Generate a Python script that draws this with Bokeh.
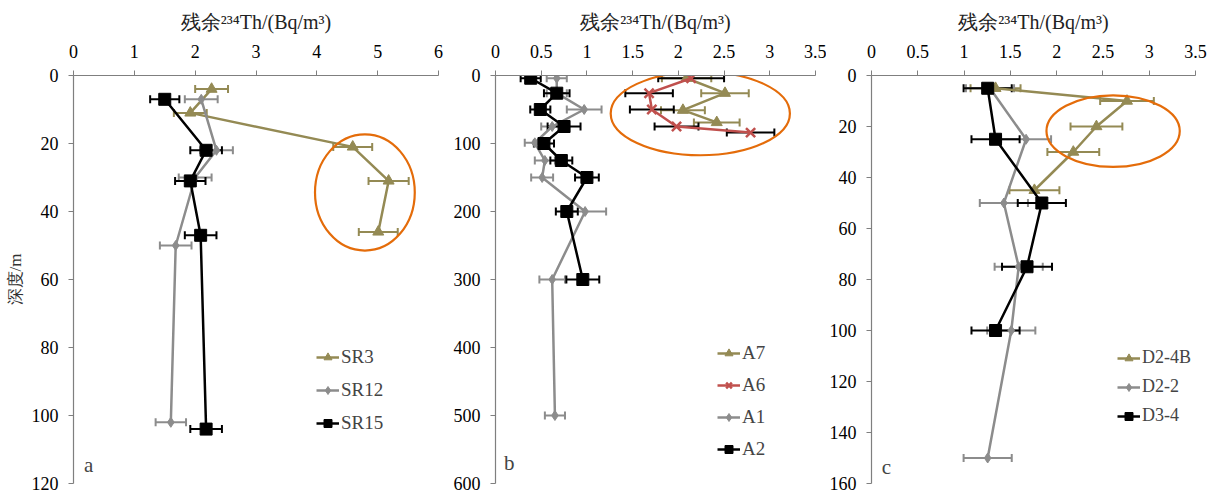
from bokeh.plotting import figure
from bokeh.layouts import row
from bokeh.models import (ColumnDataSource, Whisker, TeeHead, Legend, LegendItem,
                          Range1d, FixedTicker, Label)
from bokeh.embed import file_html
from bokeh.resources import INLINE

# ---------------- data ----------------
# panel a
SR3_x = [2.27, 1.92, 4.59, 5.18, 5.01]
SR3_d = [4, 11, 21, 31, 46]
SR3_e = [0.27, 0.27, 0.32, 0.33, 0.32]
SR12_x = [2.10, 2.35, 2.00, 1.68, 1.60]
SR12_d = [7, 22, 30, 50, 102]
SR12_e = [0.27, 0.27, 0.27, 0.26, 0.25]
SR15_x = [1.50, 2.18, 1.92, 2.09, 2.18]
SR15_d = [7, 22, 31, 47, 104]
SR15_e = [0.24, 0.26, 0.25, 0.26, 0.26]

# panel b
A7_x = [2.09, 2.51, 2.05, 2.42]
A7_d = [4, 26, 51, 69]
A7_e = [0.27, 0.26, 0.24, 0.25]
A6_x = [2.14, 1.68, 1.71, 1.98, 2.79]
A6_d = [4, 26, 50, 75, 84]
A6_e = [0.36, 0.26, 0.24, 0.24, 0.26]
A1_x = [0.67, 0.67, 0.97, 0.62, 0.43, 0.54, 0.51, 0.98, 0.62, 0.65]
A1_d = [4, 26, 50, 75, 99, 125, 150, 200, 300, 500]
A1_e = [0.11, 0.11, 0.19, 0.12, 0.11, 0.11, 0.12, 0.23, 0.14, 0.11]
A2_x = [0.385, 0.67, 0.49, 0.75, 0.53, 0.72, 1.00, 0.78, 0.955]
A2_d = [4, 26, 50, 75, 100, 125, 150, 200, 300]
A2_e = [0.11, 0.14, 0.11, 0.18, 0.11, 0.12, 0.13, 0.12, 0.18]

# panel c
D24B_x = [1.34, 2.76, 2.43, 2.18, 1.76]
D24B_d = [5, 10, 20, 30, 45]
D24B_e = [0.27, 0.29, 0.28, 0.28, 0.27]
D22_x = [1.28, 1.67, 1.43, 1.59, 1.51, 1.255]
D22_d = [5, 25, 50, 75, 100, 150]
D22_e = [0.26, 0.27, 0.26, 0.26, 0.26, 0.26]
D34_x = [1.255, 1.34, 1.84, 1.68, 1.34]
D34_d = [5, 25, 50, 75, 100]
D34_e = [0.26, 0.26, 0.26, 0.27, 0.26]

# highlighted regions (ellipses): center x, center depth, width, height
ELL_a = (4.79, 34.4, 1.64, 34.2)
ELL_b = (2.24, 55.8, 1.96, 123.0)
ELL_c = (2.61, 21.8, 1.44, 28.1)

X_TITLE = "残余²³⁴Th/(Bq/m³)"
Y_TITLE = "深度/m"

OLIVE = "#948A54"
RED = "#C0504D"
GRAY = "#8C8C8C"
BLACK = "#000000"
ORANGE = "#E46C0A"
AXIS = "#7F7F7F"
SERIF = "Liberation Serif"


def make_fig(width, left, right, top, bottom, xmax, ymax, xticks, yticks, ylabel=None):
    p = figure(width=width, height=497, x_range=Range1d(0, xmax), y_range=Range1d(ymax, 0),
               x_axis_location="above", output_backend="svg", toolbar_location=None,
               min_border_left=left, min_border_right=right, min_border_top=top,
               min_border_bottom=bottom)
    p.outline_line_color = None
    p.grid.visible = False
    p.background_fill_color = "white"
    p.border_fill_color = "white"
    p.xaxis.ticker = FixedTicker(ticks=xticks)
    p.yaxis.ticker = FixedTicker(ticks=yticks)
    for ax in (p.xaxis[0], p.yaxis[0]):
        ax.axis_line_color = AXIS
        ax.axis_line_width = 1.2
        ax.major_tick_line_color = AXIS
        ax.major_tick_in = 0
        ax.major_tick_out = 5
        ax.minor_tick_line_color = None
        ax.major_label_text_font = SERIF
        ax.major_label_text_font_size = "18px"
        ax.major_label_text_color = "#000000"
        ax.major_label_standoff = 10
    p.xaxis.major_label_standoff = 13
    p.xaxis.axis_label = X_TITLE
    p.xaxis.axis_label_text_font = SERIF
    p.xaxis.axis_label_text_font_style = "normal"
    p.xaxis.axis_label_text_font_size = "20px"
    p.xaxis.axis_label_text_color = "#222222"
    p.xaxis.axis_label_standoff = 9
    if ylabel:
        p.yaxis.axis_label = ylabel
        p.yaxis.axis_label_text_font = SERIF
        p.yaxis.axis_label_text_font_style = "normal"
        p.yaxis.axis_label_text_font_size = "17px"
        p.yaxis.axis_label_text_color = "#333333"
        p.yaxis.axis_label_standoff = 4
    return p


def add_series(p, xs, ds, es, color, marker, size, err_color):
    src = ColumnDataSource(dict(x=xs, d=ds, lo=[a - b for a, b in zip(xs, es)],
                                hi=[a + b for a, b in zip(xs, es)]))
    ln = p.line("x", "d", source=src, line_color=color, line_width=2.5)
    w = Whisker(source=src, base="d", lower="lo", upper="hi", dimension="width",
                line_color=err_color, line_width=2,
                lower_head=TeeHead(size=8, line_color=err_color, line_width=2),
                upper_head=TeeHead(size=8, line_color=err_color, line_width=2))
    p.add_layout(w)
    if marker == "x":
        sc = p.scatter("x", "d", source=src, marker="x", size=size, line_color=color,
                       line_width=2.5)
    else:
        sc = p.scatter("x", "d", source=src, marker=marker, size=size, fill_color=color,
                       line_color=color)
    return [ln, sc]


def add_legend(p, items, x, y, spacing, fsize="19px"):
    leg = Legend(items=[LegendItem(label=l, renderers=r) for l, r in items],
                 location=(x, y), orientation="vertical",
                 label_text_font=SERIF, label_text_font_size=fsize,
                 glyph_width=23, glyph_height=20, label_height=20, label_standoff=2,
                 spacing=spacing, padding=0, margin=0,
                 border_line_alpha=0, background_fill_alpha=0)
    p.add_layout(leg)


def add_ellipse(p, e):
    cx, cy, w, h = e
    p.ellipse(x=[cx], y=[cy], width=[w], height=[h], fill_color=None,
              line_color=ORANGE, line_width=2.2)


def add_tag(p, text, x, y):
    p.add_layout(Label(x=x, y=y, text=text, text_font=SERIF, text_font_size="21px",
                       text_align="center", text_baseline="middle"))


# ---------------- panel a ----------------
pa = make_fig(450, 73, 12, 75, 11, 6, 120, [0, 1, 2, 3, 4, 5, 6],
              [0, 20, 40, 60, 80, 100, 120], ylabel=Y_TITLE)
r1 = add_series(pa, SR3_x, SR3_d, SR3_e, OLIVE, "triangle", 11, OLIVE)
r2 = add_series(pa, SR12_x, SR12_d, SR12_e, GRAY, "diamond", 10, GRAY)
r3 = add_series(pa, SR15_x, SR15_d, SR15_e, BLACK, "square", 12, BLACK)
add_ellipse(pa, ELL_a)
add_legend(pa, [("SR3", r1), ("SR12", r2), ("SR15", r3)], 243, 49, 11)
add_tag(pa, "a", 0.25, 114.5)

# ---------------- panel b ----------------
pb = make_fig(376, 42, 11, 74, 12, 3.5, 600, [0, 0.5, 1, 1.5, 2, 2.5, 3, 3.5],
              [0, 100, 200, 300, 400, 500, 600])
b1 = add_series(pb, A7_x, A7_d, A7_e, OLIVE, "triangle", 11, OLIVE)
b2 = add_series(pb, A6_x, A6_d, A6_e, RED, "x", 13, BLACK)
b3 = add_series(pb, A1_x, A1_d, A1_e, GRAY, "diamond", 10, GRAY)
b4 = add_series(pb, A2_x, A2_d, A2_e, BLACK, "square", 12, BLACK)
add_ellipse(pb, ELL_b)
add_legend(pb, [("A7", b1), ("A6", b2), ("A1", b3), ("A2", b4)], 222, 23, 10)
add_tag(pb, "b", 0.15, 570)

# ---------------- panel c ----------------
pc = make_fig(391, 40, 22, 75, 14, 3.5, 160, [0, 0.5, 1, 1.5, 2, 2.5, 3, 3.5],
              [0, 20, 40, 60, 80, 100, 120, 140, 160])
c1 = add_series(pc, D24B_x, D24B_d, D24B_e, OLIVE, "triangle", 11, OLIVE)
c2 = add_series(pc, D22_x, D22_d, D22_e, GRAY, "diamond", 10, GRAY)
c3 = add_series(pc, D34_x, D34_d, D34_e, BLACK, "square", 12, BLACK)
add_ellipse(pc, ELL_c)
add_legend(pc, [("D2-4B", c1), ("D2-2", c2), ("D3-4", c3)], 246, 57, 8, "18px")
add_tag(pc, "c", 0.16, 153.5)

layout = row(pa, pb, pc, spacing=0)
open("out.html", "w").write(file_html(layout, INLINE))
